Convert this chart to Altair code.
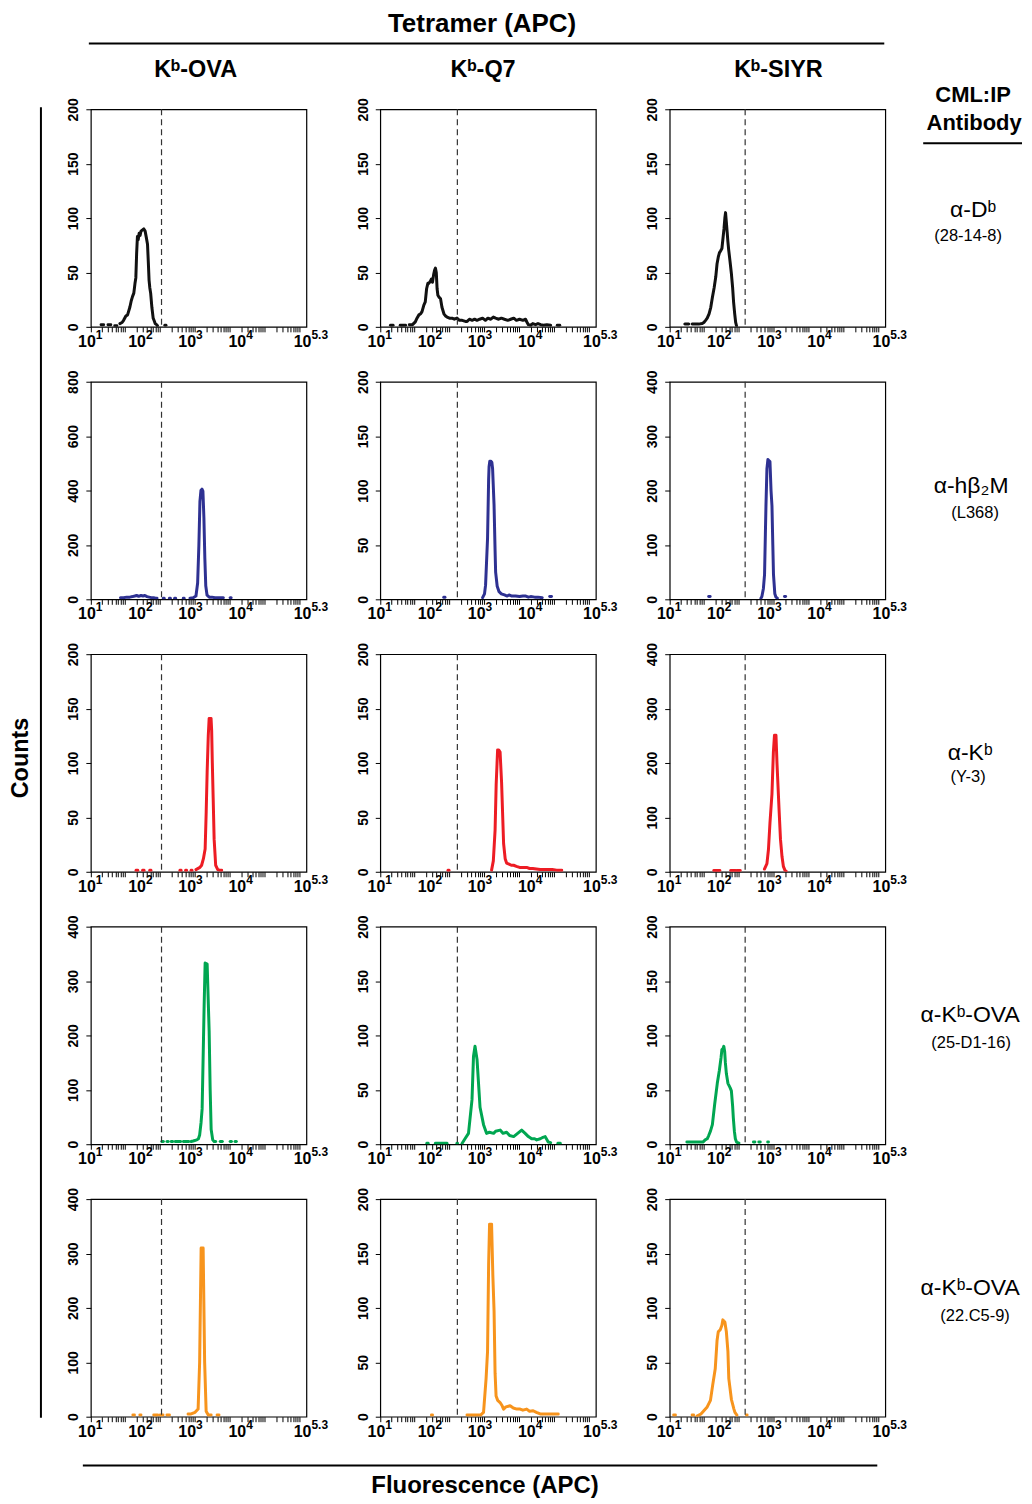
import math
import altair as alt
import pandas as pd

FONT = "Liberation Sans"
W, H = 216, 218
X_MIN, X_MAX = 10, 199526  # 10^1 .. 10^5.3

ROW_COLORS = ["#111111", "#2E3192", "#ED1C24", "#00A651", "#F7941D"]
Y_MAX = [[200, 200, 200], [800, 200, 400], [200, 200, 400], [400, 200, 200], [400, 200, 200]]
Y_TICKS = {200: [0, 50, 100, 150, 200], 400: [0, 100, 200, 300, 400], 800: [0, 200, 400, 600, 800]}
THRESH = [257, 345, 320]

X_LABEL_VALUES = [10, 100, 1000, 10000, 199526]
X_LABEL_BASE = ["10", "10", "10", "10", "10"]
X_LABEL_EXP = ["1", "2", "3", "4", "5.3"]

COL_HEADERS = ["Kᵇ-OVA", "Kᵇ-Q7", "Kᵇ-SIYR"]
ROW_LABELS = ["α-Dᵇ", "α-hβ₂M", "α-Kᵇ", "α-Kᵇ-OVA", "α-Kᵇ-OVA"]
ROW_CLONES = ["(28-14-8)", "(L368)", "(Y-3)", "(25-D1-16)", "(22.C5-9)"]
TOP_TITLE = ["Tetramer (APC)"]
RIGHT_TITLE = ["CML:IP", "Antibody"]
Y_TITLE = ["Counts"]
X_TITLE = ["Fluorescence (APC)"]

# ---- histogram traces (fluorescence, count); None = gap ----
R1C1_X = [16, 18, None, 22, 25, None, 30, 33, None, 38, 42, 45, 50, 54, 60, 64, 68, 72, 76, 79, 82, 85, 88, 92, 96, 100, 107, 114, 121, 128, 135, 140, 145, 150, 156, 165, 175, 182, 192, 205, 213, None, 300, 315]
R1C1_Y = [2, 2, None, 2, 2, None, 1, 1, None, 3, 4, 6, 10, 11, 18, 24, 28, 31, 40, 45, 68, 83, 80, 86, 84, 88, 89, 90, 88, 82, 76, 60, 43, 36, 31, 18, 8, 6, 3, 2, 1, None, 1.5, 1.5]

R1C2_X = [16, 18, None, 25, 28, 32, None, 38, 44, 50, 54, 59, 64, 68, 74, 79, 84, 89, 93, 100, 105, 110, 116, 121, 126, 131, 136, 141, 150, 159, 170, 186, 200, 215, 240, 270, 300, 339, 380, 430, 500, 540, 600, 680, 760, 850, 960, 1100, 1250, 1400, 1600, 1800, 2000, 2300, 2600, 3000, 3500, 4000, 4600, 5200, 6000, 7000, 7900, 8500, 9000, 10000, 11000, 12500, 14000, 15850, 18000, 21000, 25000, None, 34000, 38000]
R1C2_Y = [1.5, 1.5, None, 1.5, 1.5, 1.5, None, 2, 2, 4.6, 8, 11, 12, 14, 20, 23, 35, 40, 40, 42, 44, 41, 48, 52, 54, 50, 35, 29, 27, 26, 18, 12, 10, 9, 8, 8, 7, 8, 6, 6, 5, 5, 7, 6, 7, 6, 7, 8, 6, 8, 7, 9, 8, 7, 8, 7, 6, 7, 8, 6, 7, 6, 7, 4, 2, 1.5, 3, 2, 3, 2, 1.5, 2, 1.5, None, 1.5, 1.5]

R1C3_X = [20, 24, None, 28, 33, 38, 44, 48, 52, 56, 61, 66, 71, 77, 83, 88, 93, 98, 104, 110, 116, 121, 126, 130, 135, 140, 145, 150, 160, 170, 180, 188, 198, 207, 215]
R1C3_Y = [2.5, 2.5, None, 2.5, 2.5, 2.5, 3, 4, 6, 8, 12, 18, 27, 36, 46, 58, 64, 68, 70, 72, 82, 90, 100, 105, 96, 87, 78, 71, 60, 49, 36, 23, 12, 4, 1]

R2C1_X = [39, 45, 52, 60, 68, 75, 82, 90, 100, 110, 120, 132, 145, 160, 178, 195, 209, None, 280, 290, None, 370, 385, None, 470, 490, None, 700, 725, None, 950, 1100, 1250, 1350, 1430, 1500, 1570, 1650, 1720, 1800, 1880, 1960, 2080, 2300, 2600, 3000, 3500, 4000, 4400, None, 6000, 6300]
R2C1_Y = [6, 6, 8, 8, 10, 12, 14, 11, 14, 12, 14, 10, 8, 6, 6, 4, 4, None, 4, 4, None, 4, 4, None, 4, 4, None, 4, 4, None, 4, 6, 12, 60, 200, 360, 400, 405, 398, 300, 150, 50, 15, 8, 8, 6, 6, 6, 6, None, 6, 6]

R2C2_X = [185, 195, None, 1100, 1200, 1260, 1380, 1450, 1480, 1530, 1600, 1680, 1740, 1860, 1950, 2000, 2150, 2340, 2600, 3000, 3400, 3700, 4200, 5000, 6000, 7000, 8000, 9000, 10000, 12000, 14000, 17000, None, 24000, 26000]
R2C2_Y = [2, 2, None, 1.5, 5, 13, 56, 110, 122, 127, 127, 126, 120, 87, 45, 25, 12, 7, 5, 4, 3, 4, 3, 3, 2.5, 3, 3, 2, 2.5, 2, 2, 1.5, None, 2.5, 2.5]

R2C3_X = [60, 64, None, 660, 690, 740, 780, 810, 832, 870, 910, 950, 1000, 1050, 1096, 1140, 1175, 1250, 1318, 1400, None, 1950, 2050]
R2C3_Y = [5, 5, None, 2, 5, 20, 46, 120, 172, 240, 257, 255, 253, 200, 172, 100, 46, 10, 4, 2, None, 5, 5]

R3C1_X = [80, 86, None, 108, 115, None, 150, 158, None, 600, 630, None, 780, 810, None, 1000, 1040, None, 1250, 1500, 1620, 1760, 1905, 2000, 2090, 2200, 2291, 2400, 2500, 2570, 2650, 2754, 2880, 3090, 3400, 3700, 4074]
R3C1_Y = [1.5, 1.5, None, 1.5, 1.5, None, 1.5, 1.5, None, 1.5, 1.5, None, 1.5, 1.5, None, 1.5, 1.5, None, 2, 4, 6, 12, 21, 55, 92, 125, 141, 141, 141, 130, 100, 68, 30, 6, 2, 1.5, 1.5]

R3C2_X = [225, 235, None, 1660, 1800, 1950, 2050, 2190, 2300, 2455, 2630, 2884, 3100, 3311, 3700, 4100, 4571, 5200, 6000, 7000, 8318, 9500, 11000, 13000, 15488, 18000, 22000, 27000, 33000, 41687]
R3C2_Y = [1.5, 1.5, None, 1.5, 10, 38, 80, 112, 112, 110, 82, 26, 12, 8, 7, 6, 6, 5, 4, 4, 4, 3, 3, 2.5, 2, 2, 2, 2, 1.5, 1.5]

R3C3_X = [76, 100, None, 165, 205, None, 220, 255, None, 776, 870, 933, 1000, 1096, 1170, 1230, 1318, 1380, 1514, 1620, 1738, 1850, 1995, 2100]
R3C3_Y = [2.5, 2.5, None, 2.5, 2.5, None, 2.5, 2.5, None, 5, 15, 41, 90, 143, 220, 251, 251, 200, 117, 60, 28, 10, 2.5, 1]

R4C1_X = [260, 280, None, 330, 350, None, 400, 430, None, 480, 620, None, 700, 900, None, 1000, 1100, 1300, 1400, 1480, 1580, 1660, 1820, 1905, 2090, 2290, 2400, 2512, 2700, 2884, 3100, None, 3800, 4200, None, 6000, 6400, None, 7500, 8000]
R4C1_Y = [5, 5, None, 5, 5, None, 5, 5, None, 5, 5, None, 5, 5, None, 5, 6, 8, 10, 17, 40, 65, 255, 333, 331, 208, 100, 27, 8, 5, 5, None, 5, 5, None, 5, 5, None, 5, 5]

R4C2_X = [85, 90, None, 126, 150, 175, 214, None, 339, 347, None, 427, 490, 575, 676, 724, 776, 851, 977, 1148, 1318, 1500, 1820, 2000, 2460, 2800, 3311, 3800, 4571, 5500, 6607, 7762, 9000, 10471, 12000, 13183, 15500, 17000, 19498, 22387, 25000, None, 35000, 38905]
R4C2_Y = [1, 1, None, 1, 1, 1, 1, None, 1, 1, None, 0.6, 5, 10, 41, 81, 90, 78, 34, 18, 10, 11, 10, 12, 13, 10, 11, 8, 7, 10, 13, 10, 7, 5, 5, 4, 5, 6, 7, 2, 1.5, None, 1, 1]

R4C3_X = [22, 26, 30, 35, 40, 46, 51, 56, 60, 65, 71, 79, 89, 98, 106, 110, 116, 120, 125, 129, 135, 145, 160, 170, 180, 186, 195, 204, 215, 240, None, 468, 500, None, 600, 640, None, 900, 933]
R4C3_Y = [2, 2, 2, 2, 2, 2, 4, 5, 8, 12, 18, 37, 56, 68, 80, 87, 88, 90, 85, 75, 65, 56, 52, 49, 35, 24, 12, 5, 2, 1, None, 2, 2, None, 2, 2, None, 2, 2]

R5C1_X = [69, 74, None, 95, 100, None, 180, 215, None, 240, 275, None, 330, 370, None, 870, 1000, 1200, 1380, 1480, 1585, 1660, 1738, 1862, 1995, 2200, 2512, None, 3300, 3600]
R5C1_Y = [3, 3, None, 3, 3, None, 3, 3, None, 3, 3, None, 3, 3, None, 5, 5, 8, 14, 100, 310, 310, 310, 100, 10, 3, 3, None, 3, 3]

R5C2_X = [105, 110, None, 537, 650, 800, 1000, 1148, 1290, 1380, 1450, 1514, 1580, 1660, 1760, 1862, 1950, 2042, 2200, 2455, 2700, 2884, 3200, 3890, 4500, 5300, 6166, 7000, 8318, 9500, 11220, 13000, 15488, 20000, 27000, 35481]
R5C2_Y = [1.5, 1.5, None, 1.5, 1.5, 1.5, 1.5, 4, 35, 60, 140, 177, 177, 177, 130, 97, 40, 19, 15, 13, 10, 7, 9, 10, 8, 7, 7, 6, 7, 5, 5.5, 4, 2.5, 2.5, 2.5, 2.5]

R5C3_X = [12, 13, None, 28, 30, None, 35, 42, 48, 56, 65, 72, 81, 88, 93, 102, 110, 115, 120, 126, 135, 145, 151, 170, 191, 200, 219, None, 340, 350]
R5C3_Y = [1.5, 1.5, None, 1.5, 1.5, None, 0.5, 2.5, 5.5, 9, 15, 29, 44, 70, 78, 80, 84, 89, 88, 87, 78, 60, 35, 16, 7, 4, 1.5, None, 1.5, 1.5]

TRACES = [
    [(R1C1_X, R1C1_Y), (R1C2_X, R1C2_Y), (R1C3_X, R1C3_Y)],
    [(R2C1_X, R2C1_Y), (R2C2_X, R2C2_Y), (R2C3_X, R2C3_Y)],
    [(R3C1_X, R3C1_Y), (R3C2_X, R3C2_Y), (R3C3_X, R3C3_Y)],
    [(R4C1_X, R4C1_Y), (R4C2_X, R4C2_Y), (R4C3_X, R4C3_Y)],
    [(R5C1_X, R5C1_Y), (R5C2_X, R5C2_Y), (R5C3_X, R5C3_Y)],
]

# odd flow-cytometer tick scheme (minor log ticks on a 6.15-decade grid)
TICK_FRACS = [0.0] + [(k + math.log10(m)) / 6.15 for k in range(6) for m in range(2, 10)]
X_TICKS = [10 ** (1 + 4.3 * f) for f in TICK_FRACS]


def build_df(xs, ys):
    assert len(xs) == len(ys), (len(xs), len(ys))
    rows, seg = [], 0
    for x, y in zip(xs, ys):
        if x is None or y is None:
            seg += 1
            continue
        rows.append({"x": x, "y": y, "seg": seg})
    return pd.DataFrame(rows)


X_SCALE = alt.Scale(type="log", domain=[X_MIN, X_MAX], nice=False, zero=False)


def x_axis():
    return alt.Axis(values=X_TICKS, labels=False, ticks=True, tickSize=5, tickColor="black",
                    tickWidth=1, domain=False, grid=False, title=None)


def y_axis(ymax):
    return alt.Axis(values=Y_TICKS[ymax], labelAngle=270, labelAlign="center", labelBaseline="bottom",
                    labelPadding=5, labelFont=FONT, labelFontSize=14, labelFontWeight="bold",
                    labelColor="black", labelOverlap=False, labelFlush=False, tickSize=5,
                    tickColor="black", domain=False, grid=False, title=None)


def txt(x, y, text, size, weight="normal", angle=0):
    return alt.Chart(pd.DataFrame({"t": [text]})).mark_text(
        font=FONT, fontSize=size, fontWeight=weight, color="black", angle=angle,
        align="center", baseline="middle"
    ).encode(x=alt.value(x), y=alt.value(y), text="t:N")


def rule(x1, x2, y1, y2, w=2):
    return alt.Chart(pd.DataFrame({"k": [0]})).mark_rule(color="black", strokeWidth=w).encode(
        x=alt.value(x1), x2=alt.value(x2), y=alt.value(y1), y2=alt.value(y2))


def panel(r, c):
    xs, ys = TRACES[r][c]
    df = build_df(xs, ys)
    ymax = Y_MAX[r][c]
    line = alt.Chart(df).mark_line(
        color=ROW_COLORS[r], strokeWidth=3, strokeJoin="round", strokeCap="round", clip=True
    ).encode(
        x=alt.X("x:Q", scale=X_SCALE, axis=x_axis()),
        y=alt.Y("y:Q", scale=alt.Scale(domain=[0, ymax], nice=False), axis=y_axis(ymax)),
        detail="seg:N",
    )
    thr = alt.Chart(pd.DataFrame({"t": [THRESH[c]]})).mark_rule(
        color="#333333", strokeWidth=1.2, strokeDash=[6, 4]
    ).encode(x=alt.X("t:Q", scale=X_SCALE, axis=x_axis()), y=alt.value(0), y2=alt.value(H))
    lab = pd.DataFrame({"v": X_LABEL_VALUES, "b": X_LABEL_BASE, "e": X_LABEL_EXP})
    base_txt = alt.Chart(lab).mark_text(
        align="right", baseline="middle", dx=5, font=FONT, fontSize=16, fontWeight="bold", color="black"
    ).encode(x=alt.X("v:Q", scale=X_SCALE, axis=x_axis()), y=alt.value(H + 15), text="b:N")
    exp_txt = alt.Chart(lab).mark_text(
        align="left", baseline="middle", dx=5, font=FONT, fontSize=12, fontWeight="bold", color="black"
    ).encode(x=alt.X("v:Q", scale=X_SCALE, axis=x_axis()), y=alt.value(H + 8), text="e:N")

    layers = [line, thr, base_txt, exp_txt]
    if r == 0:
        hx = [105, 103, 109][c]
        layers.append(txt(hx, -39, COL_HEADERS[c], 23.5, "bold"))
        if c == 0:
            layers.append(rule(-50, -50, -2, 1311, 2))
        if c == 1:
            layers.append(txt(102, -85.5, TOP_TITLE[0], 26, "bold"))
            layers.append(rule(-292, 505, -66, -66, 2))
        if c == 2:
            layers.append(txt(304, -14, RIGHT_TITLE[0], 22, "bold"))
            layers.append(txt(305, 14, RIGHT_TITLE[1], 22, "bold"))
            layers.append(rule(254, 353, 34, 34, 2))
    if c == 2:
        pos = [(304, 101, 299, 127), (302, 104, 306, 132), (301, 99, 299, 123),
               (301, 89, 302, 117), (301, 89, 306, 117)][r]
        layers.append(txt(pos[0], pos[1], ROW_LABELS[r], 23))
        layers.append(txt(pos[2], pos[3], ROW_CLONES[r], 16.5))
    if r == 2 and c == 0:
        layers.append(txt(-70, 104, Y_TITLE[0], 23.5, "bold", angle=270))
    if r == 4 and c == 1:
        layers.append(txt(105, 287, X_TITLE[0], 24, "bold"))
        layers.append(rule(-298, 498, 267, 267, 2))
    return alt.layer(*layers).properties(width=W, height=H)


panels = [panel(r, c) for r in range(5) for c in range(3)]

chart = alt.concat(
    *panels, columns=3, spacing={"row": 55, "column": 74}, bounds="flush"
).properties(padding=0, background="white").configure_view(stroke="black", strokeWidth=1.2)

chart.save("out.html", embed_options={"renderer": "svg", "actions": False})
